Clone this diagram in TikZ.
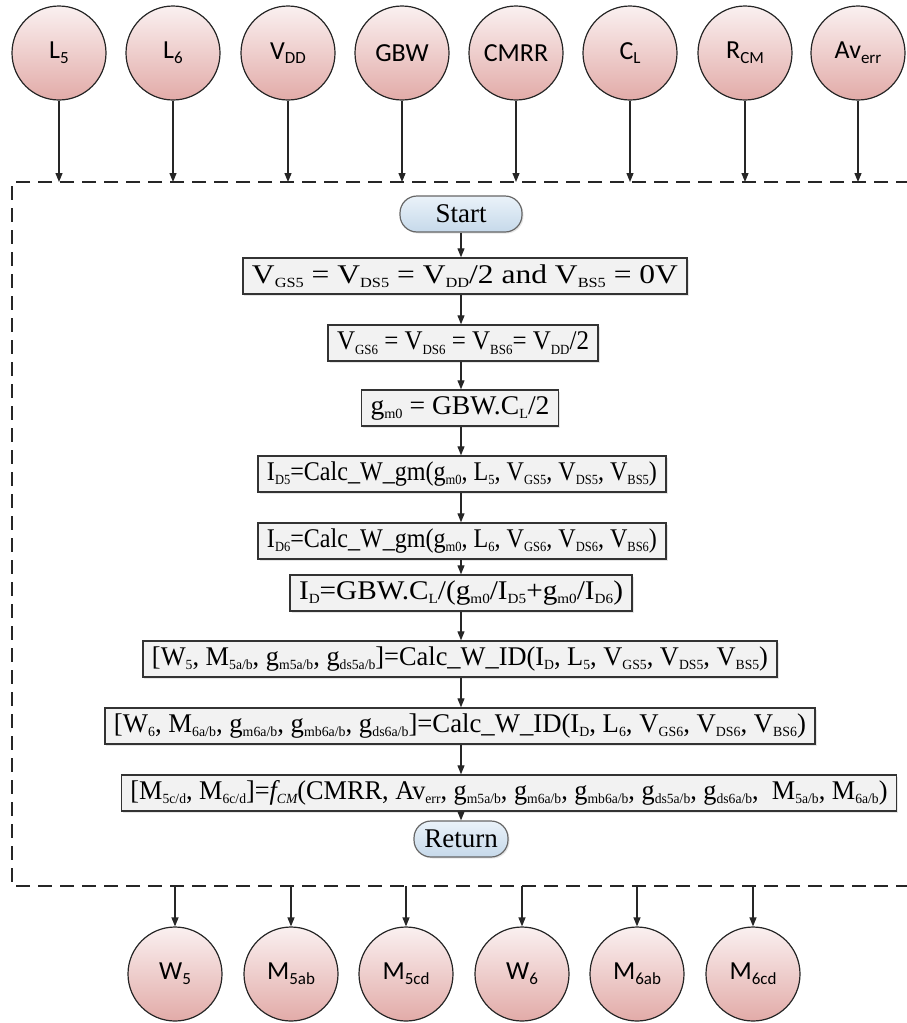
\documentclass[tikz,border=0pt]{standalone}
\usepackage{fontspec}
\usepackage{graphicx}
\setmainfont{Liberation Serif}
\newfontfamily\circfont{Carlito}
\usetikzlibrary{arrows.meta,shadows}
% small lowered index used in the step boxes
\newcommand{\sbs}[1]{\raisebox{-0.16em}{\fontsize{14}{15}\selectfont #1}}
% index used in the parameter circles
\newcommand{\csb}[1]{\raisebox{-0.18em}{\fontsize{17}{18}\selectfont #1}}
% set a step text to a given width, keeping its height
\newcommand{\fitw}[2]{\resizebox{#1}{\height}{#2}}
\definecolor{circtop}{HTML}{FAF0F0}
\definecolor{circbot}{HTML}{E2ABA8}
\definecolor{termtop}{HTML}{EAF2F9}
\definecolor{termbot}{HTML}{C6D9EA}
\definecolor{boxfill}{HTML}{F2F2F2}
\begin{document}
\begin{tikzpicture}[x=1pt,y=-1pt,
  every node/.style={inner sep=0pt},
  param/.style={circle, minimum size=94pt, draw=black!85, line width=1.2pt,
    top color=circtop, bottom color=circbot,
    font=\circfont\fontsize{26}{30}\selectfont},
  term/.style={rounded corners=17pt, draw=black!60, line width=1.2pt,
    top color=termtop, bottom color=termbot, minimum height=36pt,
    drop shadow={shadow xshift=1.5pt, shadow yshift=-1.5pt, opacity=0.2},
    font=\fontsize{27}{32}\selectfont},
  stepbox/.style={draw=black!80, line width=1.4pt, fill=boxfill,
    minimum height=36pt, inner xsep=9pt,
    drop shadow={shadow xshift=1.5pt, shadow yshift=-1.5pt, opacity=0.2},
    font=\fontsize{27}{32}\selectfont},
  flow/.style={-{Triangle[length=9pt,width=7pt]}, line width=1.2pt, draw=black!85},
  frame/.style={dashed, dash pattern=on 14pt off 8pt, line width=1.2pt, draw=black!85}
]
\useasboundingbox (0,0) rectangle (907,1023);

% inputs
\foreach \n/\x/\t in {l5/59/L\csb{5}, l6/173/L\csb{6}, vdd/288/V\csb{DD},
    gbw/402/GBW, cmrr/516/CMRR, cl/630/C\csb{L}, rcm/745/R\csb{CM}, av/858/Av\csb{err}}{
  \node[param] (\n) at (\x,53) {\t};
  \coordinate (\n-in) at (\x,182);
  \draw[flow] (\n) -- (\n-in);
}

% outputs
\foreach \n/\x/\t in {w5/175/W\csb{5}, m5ab/291/M\csb{5ab}, m5cd/406/M\csb{5cd},
    w6/522/W\csb{6}, m6ab/637/M\csb{6ab}, m6cd/753/M\csb{6cd}}{
  \node[param] (\n) at (\x,974) {\t};
  \coordinate (\n-out) at (\x,886);
  \draw[flow] (\n-out) -- (\n);
}

% subroutine frame
\draw[frame] (910,182) -- (12,182) -- (12,886) -- (910,886);

% flowchart
\coordinate (spine) at (461,0);
\node[term, minimum width=122pt] (start) at (461,214) {Start};
\node[stepbox] (s1) at (465,276)
  {\fitw{426pt}{V\sbs{GS5} = V\sbs{DS5} = V\sbs{DD}/2 and V\sbs{BS5} = 0V}};
\node[stepbox] (s2) at (463,343)
  {\fitw{252pt}{V\sbs{GS6} = V\sbs{DS6} = V\sbs{BS6}= V\sbs{DD}/2}};
\node[stepbox] (s3) at (460,408)
  {\fitw{179pt}{g\sbs{m0} = GBW.C\sbs{L}/2}};
\node[stepbox] (s4) at (462,474)
  {\fitw{390pt}{I\sbs{D5}=Calc\_W\_gm(g\sbs{m0}, L\sbs{5}, V\sbs{GS5}, V\sbs{DS5}, V\sbs{BS5})}};
\node[stepbox] (s5) at (462,541)
  {\fitw{390pt}{I\sbs{D6}=Calc\_W\_gm(g\sbs{m0}, L\sbs{6}, V\sbs{GS6}, V\sbs{DS6}, V\sbs{BS6})}};
\node[stepbox] (s6) at (461,593)
  {\fitw{324pt}{I\sbs{D}=GBW.C\sbs{L}/(g\sbs{m0}/I\sbs{D5}+g\sbs{m0}/I\sbs{D6})}};
\node[stepbox] (s7) at (460,659)
  {\fitw{616pt}{[W\sbs{5}, M\sbs{5a/b}, g\sbs{m5a/b}, g\sbs{ds5a/b}]=Calc\_W\_ID(I\sbs{D}, L\sbs{5}, V\sbs{GS5}, V\sbs{DS5}, V\sbs{BS5})}};
\node[stepbox] (s8) at (460,726)
  {\fitw{692pt}{[W\sbs{6}, M\sbs{6a/b}, g\sbs{m6a/b}, g\sbs{mb6a/b}, g\sbs{ds6a/b}]=Calc\_W\_ID(I\sbs{D}, L\sbs{6}, V\sbs{GS6}, V\sbs{DS6}, V\sbs{BS6})}};
\node[stepbox] (s9) at (509,793)
  {\fitw{757pt}{[M\sbs{5c/d}, M\sbs{6c/d}]=\textit{f\sbs{CM}}(CMRR, Av\sbs{err}, g\sbs{m5a/b}, g\sbs{m6a/b}, g\sbs{mb6a/b}, g\sbs{ds5a/b}, g\sbs{ds6a/b}, \ M\sbs{5a/b}, M\sbs{6a/b})}};
\node[term, minimum width=94pt] (ret) at (461,839) {Return};

\foreach \a/\b in {start/s1, s1/s2, s2/s3, s3/s4, s4/s5, s5/s6, s6/s7, s7/s8, s8/s9, s9/ret}
  \draw[flow] (\a.south -| spine) -- (\b.north -| spine);
\end{tikzpicture}
\end{document}
